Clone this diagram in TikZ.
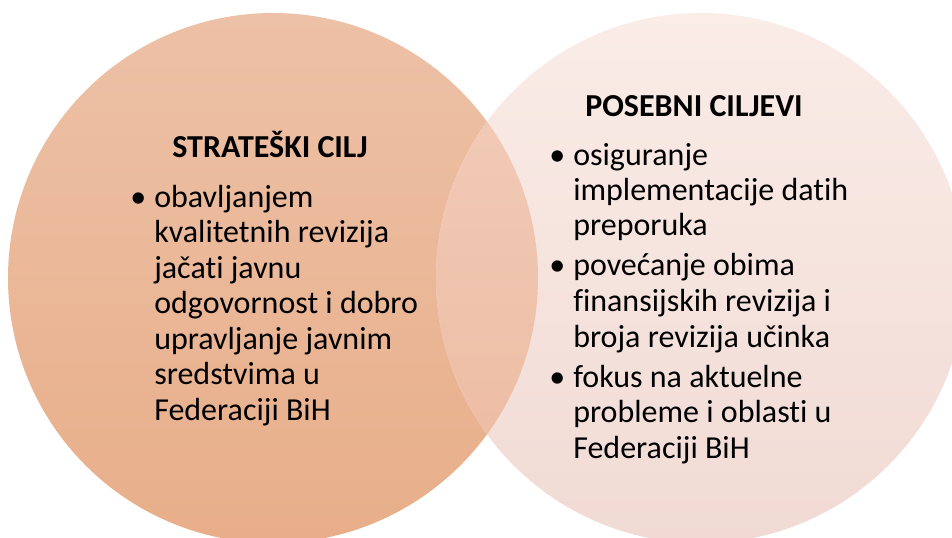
\documentclass[tikz,border=0pt]{standalone}
\usepackage{fontspec}
\setmainfont[Ligatures=NoCommon]{Carlito}
\definecolor{ltop}{RGB}{237,193,167}
\definecolor{lbot}{RGB}{232,174,137}
\definecolor{rtop}{RGB}{250,236,231}
\definecolor{rbot}{RGB}{241,218,212}
\definecolor{otop}{RGB}{242,206,188}
\definecolor{obot}{RGB}{236,185,158}
\begin{document}
\begin{tikzpicture}[x=0.75pt,y=-0.75pt,
  txt/.style={anchor=base west,inner sep=0pt,font=\fontsize{24}{28}\selectfont},
  ttl/.style={anchor=base,inner sep=0pt,font=\fontsize{24}{28}\selectfont\bfseries},
  bul/.style={anchor=base west,inner sep=0pt,font=\fontsize{24}{28}\selectfont}]
\useasboundingbox (0,0) rectangle (952,537);
\clip (0,0) rectangle (952,537);
\shade[top color=ltop,bottom color=lbot] (273,278) circle (265);
\shade[top color=rtop,bottom color=rbot] (701,278) circle (265);
\begin{scope}
\clip (273,278) circle (265);
\shade[top color=otop,bottom color=obot] (701,278) circle (265);
\end{scope}
% left
\node[ttl] (lt) at (270,157) {STRATEŠKI CILJ};
\node[bul] (lb) at (130,207) {•};
\node[txt] (l1) at (154,207) {obavljanjem};
\node[txt] (l2) at (154,242.5) {kvalitetnih revizija};
\node[txt] (l3) at (154,278) {jačati javnu};
\node[txt] (l4) at (154,313.5) {odgovornost i dobro};
\node[txt] (l5) at (154,349) {upravljanje javnim};
\node[txt] (l6) at (154,384.5) {sredstvima u};
\node[txt] (l7) at (154,420) {Federaciji BiH};
% right
\node[ttl] (rt) at (694,116) {POSEBNI CILJEVI};
\node[bul] (rb1) at (549,165) {•};
\node[txt] (r1) at (573,165) {osiguranje};
\node[txt] (r2) at (573,200) {implementacije datih};
\node[txt] (r3) at (573,235) {preporuka};
\node[bul] (rb2) at (549,275) {•};
\node[txt] (r4) at (573,275) {povećanje obima};
\node[txt] (r5) at (573,311) {finansijskih revizija i};
\node[txt] (r6) at (573,347) {broja revizija učinka};
\node[bul] (rb3) at (549,387) {•};
\node[txt] (r7) at (573,387) {fokus na aktuelne};
\node[txt] (r8) at (573,422.5) {probleme i oblasti u};
\node[txt] (r9) at (573,458) {Federaciji BiH};
\end{tikzpicture}
\end{document}
